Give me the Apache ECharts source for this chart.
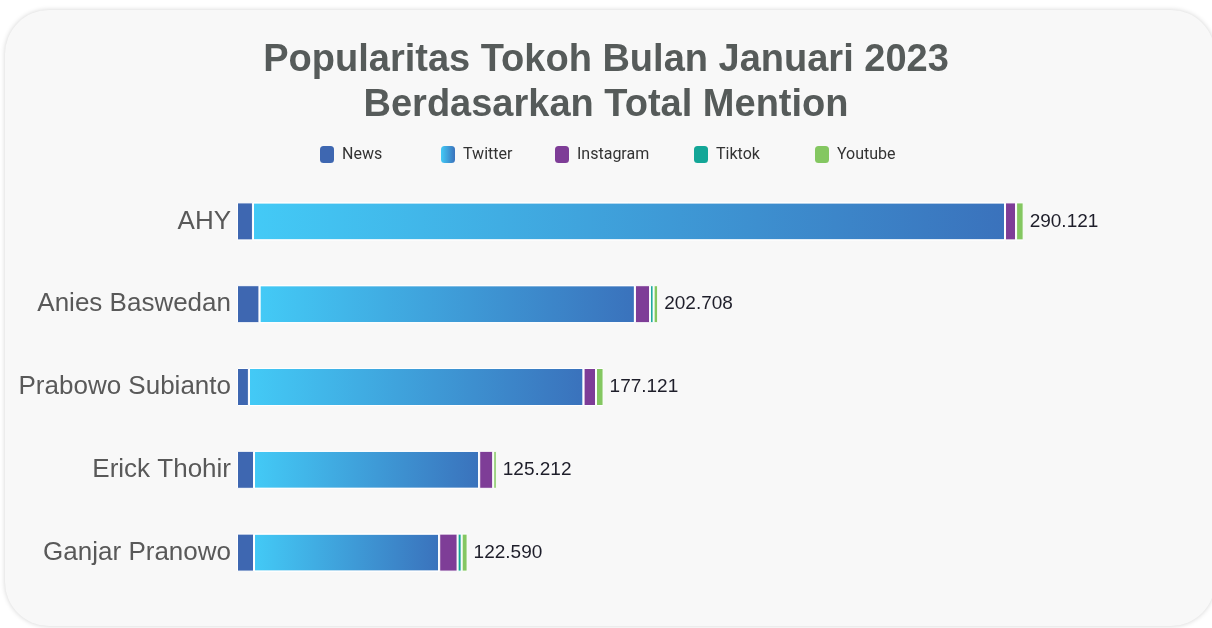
<!DOCTYPE html>
<html>
<head>
<meta charset="utf-8">
<script src="https://cdn.jsdelivr.net/npm/echarts@6/dist/echarts.min.js"></script>
<style>
  html, body { margin: 0; padding: 0; background: #fff; }
  #card {
    position: absolute; left: 5px; top: 10px; width: 1210px; height: 616px;
    background: #f8f8f8; border-radius: 44px;
    box-shadow: 0 0 5px rgba(0, 0, 0, 0.18);
  }
  #chart { position: absolute; left: 0; top: 0; width: 1212px; height: 628px; }
</style>
</head>
<body>
<div id="card"></div>
<div id="chart"></div>
<script>
const categories = ['AHY', 'Anies Baswedan', 'Prabowo Subianto', 'Erick Thohir', 'Ganjar Pranowo']
const news = [5900, 8300, 4400, 6300, 6300]
const twitter = [278200, 138900, 123800, 83300, 68500]
const instagram = [4100, 5600, 4600, 5200, 6800]
const tiktok = [0, 1300, 0, 0, 1500]
const youtube = [2800, 1700, 2800, 1300, 2200]
const totalLabels = ['290.121', '202.708', '177.121', '125.212', '122.590']

const seriesNames = ['News', 'Twitter', 'Instagram', 'Tiktok', 'Youtube']
const legendLeft = [320, 441, 555, 694, 815]

const twitterGradient = new echarts.graphic.LinearGradient(0, 0, 1, 0, [
  { offset: 0, color: '#43caf6' },
  { offset: 1, color: '#3a72bc' }
])
const colors = ['#3e67b1', twitterGradient, '#7e3d97', '#13a697', '#84c761']
const values = [news, twitter, instagram, tiktok, youtube]

const chart = echarts.init(document.getElementById('chart'))

chart.setOption({
  backgroundColor: 'transparent',
  title: {
    text: 'Popularitas Tokoh Bulan Januari 2023\nBerdasarkan Total Mention',
    left: 'center',
    top: 33,
    textStyle: {
      fontFamily: 'Liberation Sans, Arial, sans-serif',
      fontSize: 38,
      fontWeight: 'bold',
      color: '#565b5a',
      lineHeight: 45
    }
  },
  legend: seriesNames.map((name, i) => ({
    data: [name],
    left: legendLeft[i],
    top: 146,
    padding: 0,
    icon: 'roundRect',
    itemWidth: 14,
    itemHeight: 17,
    itemGap: 0,
    itemStyle: { borderWidth: 0 },
    selectedMode: false,
    textStyle: { fontFamily: 'Roboto, sans-serif', fontSize: 16, color: '#333', padding: [0, 0, 0, 3] }
  })),
  grid: { left: 237, right: 164, top: 180, bottom: 34, containLabel: false },
  xAxis: {
    type: 'value',
    min: 0,
    max: 300000,
    show: false
  },
  yAxis: {
    type: 'category',
    data: categories,
    inverse: true,
    axisLine: { show: false },
    axisTick: { show: false },
    axisLabel: {
      margin: 6,
      fontFamily: 'Liberation Sans, Arial, sans-serif',
      fontSize: 26,
      color: '#595959'
    }
  },
  series: seriesNames.map((name, i) => ({
    name,
    type: 'bar',
    stack: 'total',
    barWidth: 38,
    data: values[i],
    itemStyle: { color: colors[i], borderColor: '#ffffff', borderWidth: 1 },
    label: i === seriesNames.length - 1 ? {
      show: true,
      position: 'right',
      distance: 6,
      formatter: (p) => totalLabels[p.dataIndex],
      fontFamily: 'Liberation Sans, Arial, sans-serif',
      fontSize: 19,
      color: '#1e1e2a'
    } : { show: false }
  }))
})
</script>
</body>
</html>
